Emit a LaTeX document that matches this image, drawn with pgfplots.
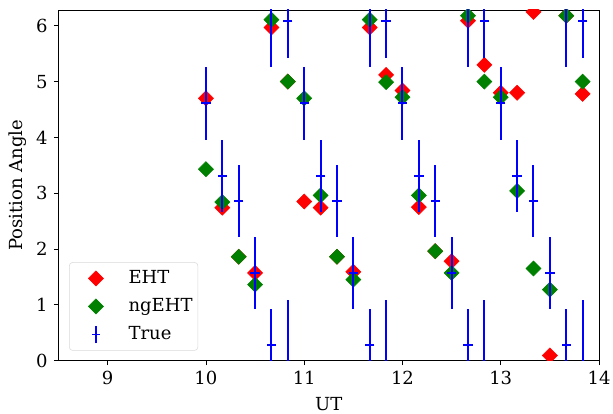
\documentclass[border=0pt]{standalone}
\usepackage{fontspec}
\setmainfont{DejaVu Serif}
\usepackage{pgfplots}
\usepackage{pgfplotstable}
\pgfplotsset{compat=1.18}

\definecolor{cEHT}{HTML}{FF0000}
\definecolor{cng}{HTML}{008000}
\definecolor{ctrue}{HTML}{0000FF}

% legend images: a diamond, and a bar with a centre tick
\pgfplotsset{
  diamond legend/.style={
    legend image code/.code={
      \path[draw=none] (0pt,0pt) -- (40.5pt,0pt);
      \path[draw=none] plot[##1] coordinates {(18pt,0pt)};}},
  bar legend/.style={
    legend image code/.code={
      \path[draw=none] (0pt,0pt) -- (40.5pt,0pt);
      \draw[ctrue, line width=1.5pt] (18pt,-6.6pt) -- (18pt,6.6pt);
      \draw[ctrue, line width=1.3pt] (15pt,0pt) -- (21pt,0pt);}},
}

% position angle estimates, EHT array
\pgfplotstableread{
t       pa
10.0    4.70
10.1667 2.74
10.3333 1.86
10.5    1.57
10.6667 5.97
10.8333 5.00
11.0    2.85
11.1667 2.74
11.3333 1.86
11.5    1.59
11.6667 5.97
11.8333 5.12
12.0    4.84
12.1667 2.75
12.3333 1.96
12.5    1.78
12.6667 6.09
12.8333 5.30
13.0    4.80
13.1667 4.80
13.3333 6.25
13.5    0.09
13.6667 6.18
13.8333 4.78
}\ehtdata

% position angle estimates, ngEHT array
\pgfplotstableread{
t       pa
10.0    3.43
10.1667 2.84
10.3333 1.86
10.5    1.36
10.6667 6.11
10.8333 5.00
11.0    4.70
11.1667 2.96
11.3333 1.86
11.5    1.45
11.6667 6.11
11.8333 4.99
12.0    4.72
12.1667 2.96
12.3333 1.96
12.5    1.57
12.6667 6.18
12.8333 5.00
13.0    4.72
13.1667 3.04
13.3333 1.65
13.5    1.27
13.6667 6.18
13.8333 5.00
}\ngdata

% true position angle with its uncertainty
\pgfplotstableread{
t       pa    err
10.0    4.61  0.65
10.1667 3.31  0.65
10.3333 2.86  0.65
10.5    1.565 0.65
10.6667 0.28  0.65
10.8333 6.08  0.65
11.0    4.61  0.65
11.1667 3.31  0.65
11.3333 2.86  0.65
11.5    1.565 0.65
11.6667 0.28  0.65
11.8333 6.08  0.65
12.0    4.61  0.65
12.1667 3.31  0.65
12.3333 2.86  0.65
12.5    1.565 0.65
12.6667 0.28  0.65
12.8333 6.08  0.65
13.0    4.61  0.65
13.1667 3.31  0.65
13.3333 2.86  0.65
13.5    1.565 0.65
13.6667 0.28  0.65
13.8333 6.08  0.65
}\truedata

% wrapped parts of the uncertainty intervals (segments split by nan)
\pgfplotstableread{
t       pa
10.6667 5.27
10.6667 6.60
nan     nan
10.8333 -0.30
10.8333 1.09
nan     nan
11.6667 5.27
11.6667 6.60
nan     nan
11.8333 -0.30
11.8333 1.09
nan     nan
12.6667 5.27
12.6667 6.60
nan     nan
12.8333 -0.30
12.8333 1.09
nan     nan
13.6667 5.27
13.6667 6.60
nan     nan
13.8333 -0.30
13.8333 1.09
}\wrapdata

\begin{document}
\fontsize{13.5}{16}\selectfont
\begin{tikzpicture}
\begin{axis}[
  scale only axis,
  width=405.4pt, height=262.9pt,
  xmin=8.5, xmax=14, ymin=0, ymax=6.2832,
  xtick={9,10,11,12,13,14},
  ytick={0,1,2,3,4,5,6},
  tick pos=left,
  tick align=outside,
  major tick length=3.5pt,
  every tick/.style={black, line width=0.6pt},
  axis line style={line width=0.6pt},
  /pgf/number format/assume math mode=true,
  ticklabel style={font=\fontsize{13.5}{16}\selectfont},
  label style={font=\fontsize{13.5}{16}\selectfont},
  xlabel={UT},
  ylabel={Position Angle},
  ylabel style={yshift=-2pt},
  clip marker paths=true,
  unbounded coords=jump,
  legend cell align=left,
  legend style={
    at={(0.0194,0.028)}, anchor=south west,
    draw=black!15, rounded corners=2.5pt,
    font=\fontsize{13.5}{16}\selectfont,
    row sep=0pt, inner xsep=2pt, inner ysep=1.5pt,
    nodes={text height=10pt, text depth=3pt, inner ysep=4pt},
    /tikz/every even column/.append style={column sep=0pt},
  },
]
\addplot[only marks, mark=square*, color=cEHT,
  mark options={rotate=45}, mark size=4pt, diamond legend]
  table[x=t, y=pa] {\ehtdata};
\addlegendentry{EHT}

\addplot[only marks, mark=square*, color=cng,
  mark options={rotate=45}, mark size=4pt, diamond legend]
  table[x=t, y=pa] {\ngdata};
\addlegendentry{ngEHT}

\addplot[color=ctrue, line width=1.5pt, forget plot]
  table[x=t, y=pa] {\wrapdata};

\addplot[only marks, mark=-, color=ctrue, mark size=3.5pt,
  mark options={line width=1.5pt}, bar legend,
  error bars/.cd, y dir=both, y explicit,
  error mark=none,
  error bar style={line width=1.5pt, ctrue}]
  table[x=t, y=pa, y error=err] {\truedata};
\addlegendentry{True}
\end{axis}
\pgfresetboundingbox
\path[use as bounding box]
  ([xshift=-43.9pt,yshift=-40.1pt]current axis.south west)
  rectangle ([xshift=10.5pt,yshift=7.5pt]current axis.north east);
\end{tikzpicture}
\end{document}
